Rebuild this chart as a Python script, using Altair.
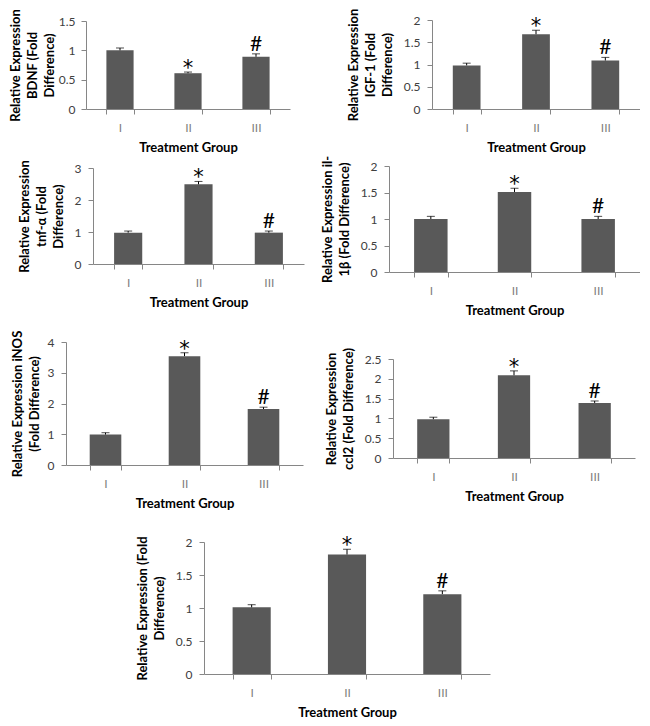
import altair as alt
import pandas as pd

groups = ["I", "II", "III"]
signif = ["", "*", "#"]

bdnf = [1.00, 0.61, 0.89]
bdnf_err = [0.04, 0.02, 0.05]
igf1 = [0.98, 1.68, 1.09]
igf1_err = [0.05, 0.09, 0.07]
tnfa = [0.98, 2.49, 0.98]
tnfa_err = [0.05, 0.09, 0.05]
il1b = [1.00, 1.51, 1.00]
il1b_err = [0.05, 0.07, 0.05]
inos = [0.99, 3.54, 1.82]
inos_err = [0.06, 0.11, 0.06]
ccl2 = [0.98, 2.09, 1.39]
ccl2_err = [0.05, 0.11, 0.05]
total = [1.01, 1.81, 1.21]
total_err = [0.04, 0.08, 0.05]

ticks_15 = [0, 0.5, 1, 1.5]
ticks_2 = [0, 0.5, 1, 1.5, 2]
ticks_3 = [0, 1, 2, 3]
ticks_4 = [0, 1, 2, 3, 4]
ticks_25 = [0, 0.5, 1, 1.5, 2, 2.5]

t_bdnf = ["Relative Expression", "BDNF (Fold", "Difference)"]
t_igf1 = ["Relative Expression", "IGF-1 (Fold", "Difference)"]
t_tnfa = ["Relative Expression", "tnf-α (Fold", "Difference)"]
t_il1b = ["Relative Expression il-", "1β (Fold Difference)"]
t_inos = ["Relative Expression iNOS", "(Fold Difference)"]
t_ccl2 = ["Relative Expression", "ccl2 (Fold Difference)"]
t_total = ["Relative Expression (Fold", "Difference)"]
x_title = "Treatment Group"

FONT = "Lato"
BAR = "#595959"
AXIS = "#868686"

COL1_W = 310
COL2_W = 322


def panel(vals, errs, ticks, ytitle, cell_w, cell_h, x0, x1, y0, tpad=9, lpad=7):
    df = pd.DataFrame({
        "g": groups,
        "v": vals,
        "top": [v + e for v, e in zip(vals, errs)],
        "s": signif,
    })
    yscale = alt.Scale(domain=[ticks[0], ticks[-1]], nice=False, zero=True,
                       range=[cell_h, y0])
    yaxis = alt.Axis(title=ytitle, values=ticks, format="~g", offset=-x0,
                     titlePadding=tpad, tickSize=5, labelPadding=lpad,
                     titleLineHeight=17)
    x = alt.X("g:N", sort=groups,
              scale=alt.Scale(range=[x0, x1], paddingInner=0.6, paddingOuter=0.3),
              axis=alt.Axis(title=x_title, labelAngle=0, tickBand="extent",
                            labelPadding=8, titlePadding=8, tickSize=5,
                            labelColor="#7f7f7f"))
    base = alt.Chart(df).encode(x=x)
    bars = base.mark_bar(color=BAR).encode(
        y=alt.Y("v:Q", scale=yscale, axis=yaxis))
    rule = base.mark_rule(color="black", strokeWidth=1).encode(
        y=alt.Y("v:Q", scale=yscale, axis=yaxis), y2="top:Q")
    cap = base.mark_tick(color="black", size=8, thickness=1).encode(
        y=alt.Y("top:Q", scale=yscale, axis=yaxis))
    star = base.transform_filter(alt.datum.s == "*").mark_text(
        fontSize=21, dy=3, baseline="alphabetic", font="DejaVu Sans",
        color="black").encode(
        y=alt.Y("top:Q", scale=yscale, axis=yaxis), text="s:N")
    hsh = base.transform_filter(alt.datum.s == "#").mark_text(
        fontSize=21, dy=-3, baseline="alphabetic", font=FONT, color="black").encode(
        y=alt.Y("top:Q", scale=yscale, axis=yaxis), text="s:N")
    return alt.layer(bars, rule, cap, star, hsh).properties(width=cell_w, height=cell_h)


A = panel(bdnf, bdnf_err, ticks_15, t_bdnf, COL1_W, 98, 78, 282, 10, tpad=2, lpad=6)
B = panel(igf1, igf1_err, ticks_2, t_igf1, COL2_W, 98, 114, 322, 9)
C = panel(tnfa, tnfa_err, ticks_3, t_tnfa, COL1_W, 155, 85, 296, 59)
D = panel(il1b, il1b_err, ticks_2, t_il1b, COL2_W, 163, 71, 322, 57)
E = panel(inos, inos_err, ticks_4, t_inos, COL1_W, 193, 58, 295, 70, tpad=6)
F = panel(ccl2, ccl2_err, ticks_25, t_ccl2, COL2_W, 186, 75, 317, 87)
G = panel(total, total_err, ticks_2, t_total, COL1_W, 209, 196, 482, 77)

chart = alt.concat(
    A, B, C, D, E, F, G, columns=2, spacing=0, bounds="flush", align="each"
).properties(
    padding={"left": 0, "top": 0, "right": 0, "bottom": 0}
).configure_view(stroke=None).configure_axis(
    labelFont=FONT, titleFont=FONT, labelFontSize=12, titleFontSize=13,
    titleFontWeight="bold", titleColor="black", labelColor="#404040",
    domainColor=AXIS, tickColor=AXIS, grid=False
)

chart.save("out.html", embed_options={"renderer": "svg", "actions": False})
